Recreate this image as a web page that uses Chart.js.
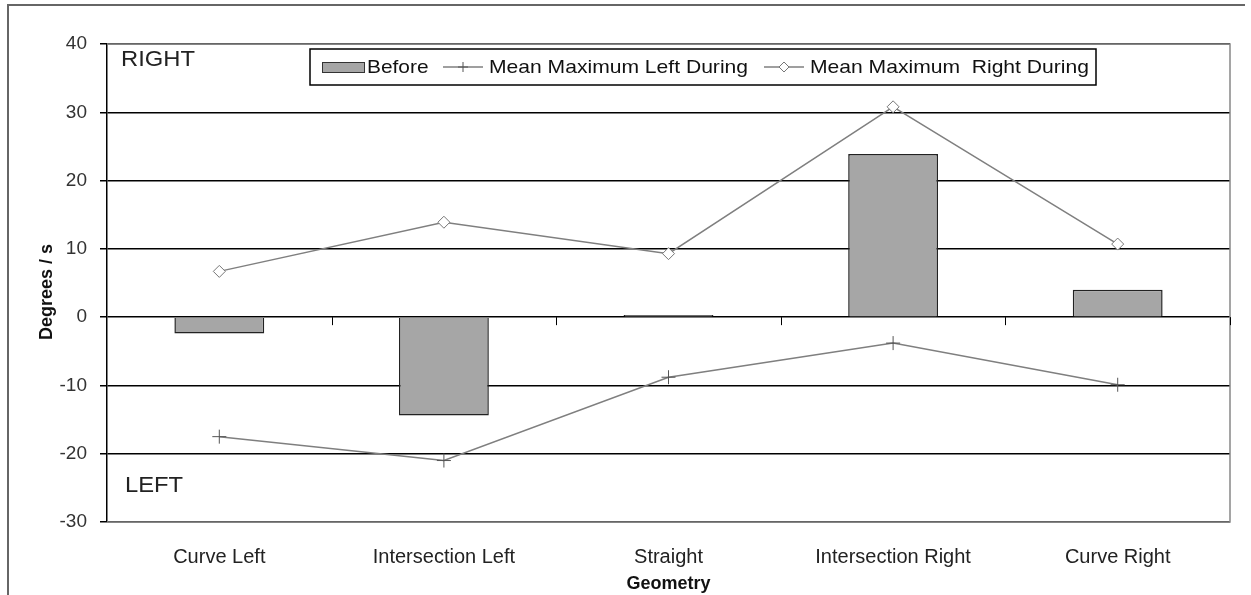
<!DOCTYPE html>
<html>
<head>
<meta charset="utf-8">
<script src="https://cdn.jsdelivr.net/npm/chart.js@4/dist/chart.umd.min.js"></script>
<style>
  html, body { margin: 0; padding: 0; background: #fff; }
  #wrap { width: 1251px; height: 595px; position: relative; }
</style>
</head>
<body>
<div id="wrap"><canvas id="chart" width="1251" height="595"></canvas></div>
<script>
const categories = ['Curve Left', 'Intersection Left', 'Straight', 'Intersection Right', 'Curve Right'];
const beforeValues = [-2.4, -14.4, 0.3, 23.9, 4.0];
const leftDuring = [-17.5, -21.0, -8.8, -3.8, -9.9];
const rightDuring = [6.7, 13.9, 9.3, 30.8, 10.7];
const yMin = -30;
const yMax = 40;
const yStep = 10;

const FONT = '"Liberation Sans", Arial, sans-serif';

// text a bit wider than normal, like the source picture
function wideText(ctx, text, x, y, sx) {
  ctx.save();
  ctx.translate(x, y);
  ctx.scale(sx, 1);
  ctx.fillText(text, 0, 0);
  ctx.restore();
}

// frame, plot border, zero line ticks, legend and RIGHT/LEFT labels
const decorations = {
  id: 'decorations',
  beforeDraw(chart) {
    const ctx = chart.ctx;
    ctx.save();
    ctx.fillStyle = '#fff';
    ctx.fillRect(0, 0, chart.width, chart.height);
    ctx.strokeStyle = '#666';
    ctx.lineWidth = 2;
    ctx.beginPath();
    ctx.moveTo(8, chart.height);
    ctx.lineTo(8, 5);
    ctx.lineTo(chart.width - 6, 5);
    ctx.stroke();
    ctx.restore();
  },
  afterDatasetsDraw(chart) {
    const ctx = chart.ctx;
    const area = chart.chartArea;
    const x = chart.scales.x;
    const y = chart.scales.y;
    ctx.save();
    // grey border top/right/bottom
    ctx.strokeStyle = '#888';
    ctx.lineWidth = 1.5;
    ctx.beginPath();
    ctx.moveTo(area.left, area.top);
    ctx.lineTo(area.right, area.top);
    ctx.lineTo(area.right, area.bottom);
    ctx.lineTo(area.left, area.bottom);
    ctx.stroke();
    // category separator ticks on zero line
    const y0 = y.getPixelForValue(0);
    const half = (x.getPixelForValue(1) - x.getPixelForValue(0)) / 2;
    ctx.strokeStyle = '#000';
    ctx.lineWidth = 1;
    for (let i = 1; i <= categories.length; i++) {
      const px = i < categories.length ? x.getPixelForValue(i) - half : area.right;
      ctx.beginPath();
      ctx.moveTo(Math.round(px) + 0.5, y0);
      ctx.lineTo(Math.round(px) + 0.5, y0 + 8);
      ctx.stroke();
    }
    ctx.restore();
  },
  afterDraw(chart) {
    const ctx = chart.ctx;
    const area = chart.chartArea;
    ctx.save();
    // RIGHT / LEFT
    ctx.fillStyle = '#222';
    ctx.font = '22px ' + FONT;
    ctx.textBaseline = 'middle';
    wideText(ctx, 'RIGHT', area.left + 14, area.top + 16, 1.08);
    wideText(ctx, 'LEFT', area.left + 18, area.bottom - 36, 1.08);

    // Y title
    ctx.font = 'bold 18px ' + FONT;
    ctx.fillStyle = '#111';
    ctx.textAlign = 'center';
    ctx.save();
    ctx.translate(47, (area.top + area.bottom) / 2 + 9);
    ctx.rotate(-Math.PI / 2);
    ctx.fillText('Degrees / s', 0, 0);
    ctx.restore();
    ctx.textAlign = 'left';

    // legend box
    const bx = 310, by = 49, bw = 786, bh = 36;
    ctx.fillStyle = '#fff';
    ctx.fillRect(bx, by, bw, bh);
    ctx.strokeStyle = '#000';
    ctx.lineWidth = 1.5;
    ctx.strokeRect(bx, by, bw, bh);
    const cy = by + bh / 2;
    ctx.font = '19px ' + FONT;
    ctx.textBaseline = 'middle';

    const ds = chart.data.datasets;
    // Before swatch
    ctx.fillStyle = ds[0].backgroundColor;
    ctx.fillRect(322, cy - 5, 42, 10);
    ctx.strokeStyle = '#333';
    ctx.lineWidth = 1;
    ctx.strokeRect(322.5, cy - 4.5, 42, 10);
    ctx.fillStyle = '#111';
    wideText(ctx, ds[0].label, 367, cy + 1, 1.1);

    // line items
    const items = [
      { d: ds[1], x0: 443, tx: 489 },
      { d: ds[2], x0: 764, tx: 810 }
    ];
    items.forEach(it => {
      ctx.strokeStyle = it.d.borderColor;
      ctx.lineWidth = 1.5;
      ctx.beginPath();
      ctx.moveTo(it.x0, cy);
      ctx.lineTo(it.x0 + 40, cy);
      ctx.stroke();
      ctx.fillStyle = it.d.pointBackgroundColor;
      ctx.strokeStyle = it.d.pointBorderColor;
      ctx.lineWidth = 1;
      Chart.helpers.drawPoint(ctx, {
        pointStyle: it.d.pointStyle,
        radius: 5,
        borderWidth: 1
      }, it.x0 + 20, cy);
      ctx.fillStyle = '#111';
      wideText(ctx, it.d.label, it.tx, cy + 1, 1.11);
    });
    ctx.restore();
  }
};

new Chart(document.getElementById('chart'), {
  type: 'bar',
  data: {
    labels: categories,
    datasets: [
      {
        type: 'bar',
        label: 'Before',
        data: beforeValues,
        backgroundColor: '#a6a6a6',
        borderColor: '#222',
        borderWidth: 1.5,
        barPercentage: 0.4,
        categoryPercentage: 1.0,
        order: 2
      },
      {
        type: 'line',
        label: 'Mean Maximum Left During',
        data: leftDuring,
        borderColor: '#7f7f7f',
        borderWidth: 1.5,
        pointStyle: 'cross',
        pointRadius: 7,
        pointBorderColor: '#555',
        pointBorderWidth: 1,
        pointBackgroundColor: '#555',
        fill: false,
        tension: 0,
        order: 1
      },
      {
        type: 'line',
        label: 'Mean Maximum  Right During',
        data: rightDuring,
        borderColor: '#7f7f7f',
        borderWidth: 1.5,
        pointStyle: 'rectRot',
        pointRadius: 6,
        pointBorderColor: '#777',
        pointBorderWidth: 1,
        pointBackgroundColor: '#fff',
        fill: false,
        tension: 0,
        order: 1
      }
    ]
  },
  options: {
    responsive: false,
    animation: false,
    layout: { padding: { top: 44, right: 21, left: 0, bottom: 0 } },
    plugins: {
      legend: { display: false },
      tooltip: { enabled: false }
    },
    scales: {
      x: {
        grid: { display: false, drawTicks: false },
        border: { display: false },
        ticks: {
          color: '#222',
          font: { family: FONT, size: 20 },
          padding: 23,
          maxRotation: 0
        },
        title: {
          display: true,
          text: 'Geometry',
          color: '#111',
          font: { family: FONT, size: 18, weight: 'bold' },
          padding: { top: 0, bottom: 0 }
        },
        afterFit(scale) { scale.height = 73; }
      },
      y: {
        min: yMin,
        max: yMax,
        ticks: {
          stepSize: yStep,
          color: '#333',
          font: { family: FONT, size: 19 },
          padding: 13
        },
        grid: {
          color: '#000',
          lineWidth: 1.5,
          drawTicks: true,
          tickLength: 7,
          tickColor: '#000'
        },
        border: { display: true, color: '#000', width: 1.5 },
        afterFit(scale) { scale.width = 107; }
      }
    }
  },
  plugins: [decorations]
});
</script>
</body>
</html>
